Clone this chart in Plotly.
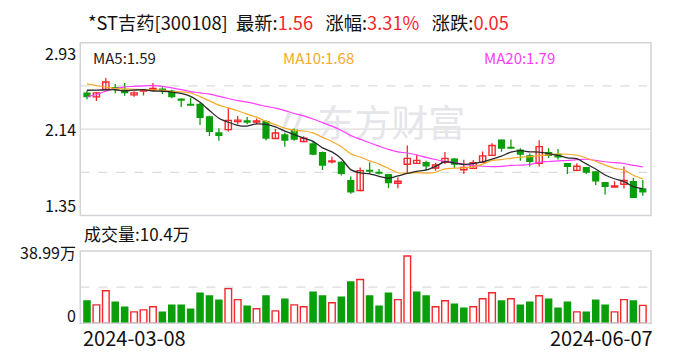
import plotly.graph_objects as go

# ---------------- data ----------------
stock_name = "*ST吉药[300108]"
x_labels = ["2024-03-08", "2024-06-07"]
price_ticks = [1.35, 2.14, 2.93]

opens = [2.475, 2.435, 2.502, 2.526, 2.502, 2.453, 2.487, 2.499, 2.511, 2.493,
         2.420, 2.369, 2.372, 2.257, 2.111, 2.135, 2.208, 2.220, 2.205, 2.214,
         2.054, 2.093, 2.138, 2.027, 2.011, 1.930, 1.842, 1.842, 1.675, 1.579,
         1.766, 1.742, 1.730, 1.645, 1.818, 1.827, 1.839, 1.784, 1.836, 1.872,
         1.769, 1.781, 1.836, 1.900, 2.045, 1.969, 1.954, 1.902, 1.827, 1.930,
         1.912, 1.830, 1.763, 1.793, 1.754, 1.657, 1.609, 1.636, 1.666, 1.600]
highs = [2.493, 2.480, 2.608, 2.553, 2.562, 2.487, 2.500, 2.562, 2.523, 2.499,
         2.420, 2.426, 2.378, 2.263, 2.148, 2.335, 2.260, 2.250, 2.238, 2.220,
         2.142, 2.108, 2.145, 2.075, 2.033, 1.936, 1.887, 1.845, 1.706, 1.790,
         1.836, 1.775, 1.730, 1.700, 1.990, 1.908, 1.851, 1.833, 1.930, 1.875,
         1.860, 1.857, 1.936, 2.011, 2.045, 2.045, 1.966, 1.918, 2.039, 1.966,
         1.957, 1.830, 1.827, 1.793, 1.754, 1.657, 1.663, 1.799, 1.694, 1.675]
lows = [2.414, 2.396, 2.496, 2.468, 2.444, 2.435, 2.447, 2.496, 2.462, 2.423,
        2.341, 2.357, 2.178, 2.078, 2.033, 2.117, 2.184, 2.184, 2.184, 2.036,
        2.051, 1.978, 2.033, 2.020, 1.902, 1.766, 1.827, 1.715, 1.548, 1.572,
        1.730, 1.724, 1.600, 1.600, 1.736, 1.821, 1.760, 1.760, 1.821, 1.784,
        1.730, 1.775, 1.830, 1.893, 1.933, 1.960, 1.851, 1.797, 1.797, 1.875,
        1.863, 1.730, 1.754, 1.730, 1.630, 1.542, 1.609, 1.597, 1.510, 1.530]
closes = [2.432, 2.471, 2.571, 2.502, 2.468, 2.471, 2.490, 2.511, 2.490, 2.432,
          2.405, 2.360, 2.241, 2.114, 2.078, 2.220, 2.222, 2.205, 2.214, 2.051,
          2.105, 2.033, 2.042, 2.057, 1.905, 1.806, 1.848, 1.730, 1.560, 1.760,
          1.757, 1.736, 1.645, 1.663, 1.872, 1.854, 1.797, 1.812, 1.872, 1.815,
          1.790, 1.833, 1.895, 1.990, 1.960, 1.966, 1.905, 1.839, 1.980, 1.893,
          1.881, 1.793, 1.800, 1.740, 1.660, 1.610, 1.620, 1.670, 1.510, 1.560]
volumes = [13.3, 10.7, 18.9, 12.7, 9.75, 6.6, 7.8, 9.6, 6.8, 10.9,
           10.9, 8.6, 17.9, 16.2, 13.8, 20.1, 13.7, 10.3, 8.4, 16.2,
           7.2, 14.4, 10.7, 9.6, 18.5, 16.2, 11.9, 15.6, 24.4, 25.4,
           16.2, 10.3, 17.9, 13.7, 38.99, 18.5, 16.2, 9.6, 13.1, 11.5,
           9.2, 9.6, 14.2, 17.7, 13.3, 14.2, 10.9, 12.7, 16.0, 14.4,
           9.2, 12.7, 6.6, 6.8, 13.8, 10.9, 6.6, 13.7, 13.3, 10.4]
# moving-average values before a full window exists
ma5_head = [2.495, 2.496, 2.499, 2.500]
ma10_head = [2.553, 2.538, 2.523, 2.512, 2.507, 2.503, 2.501, 2.499, 2.496]
ma20_head = [2.435, 2.456, 2.486, 2.510, 2.526, 2.531, 2.536, 2.537, 2.531, 2.517,
             2.501, 2.483, 2.471, 2.459, 2.440, 2.420, 2.401, 2.386, 2.368]

# ---------------- derived ----------------
n = len(closes)
idx = list(range(n))


def moving_avg(w, head):
    out = []
    for i in range(n):
        if i >= w - 1:
            out.append(sum(closes[i - w + 1:i + 1]) / w)
        else:
            out.append(head[i])
    return out


ma5 = moving_avg(5, ma5_head)
ma10 = moving_avg(10, ma10_head)
ma20 = moving_avg(20, ma20_head)

latest = closes[-1]
chg = closes[-1] - closes[-2]
pct = chg / closes[-2] * 100
vmax = max(volumes)

candle_up = [c >= o for o, c in zip(opens, closes)]
vol_up = [closes[0] >= opens[0]] + [closes[i] >= closes[i - 1] for i in range(1, n)]

RED = "#f5262b"
GREEN = "#0a9e0a"
ORANGE = "#f7a928"
MAGENTA = "#ff3cff"
BORDER = "#d2d2d8"
GRID = "#dcdcdc"
FONT = "Liberation Sans Narrow, Arial Narrow, Noto Sans CJK SC, sans-serif"
CJK = "Liberation Sans Narrow, Noto Sans CJK SC, sans-serif"

# page geometry helpers (body margin of 8px)
OFF = 8
W, H = 672, 344


def fx(p):
    return (p - OFF) / W


def fy(p):
    return 1 - (p - OFF) / H


X0, X1 = 80.3, 651
CT, CB = 42.7, 215.5
VT, VB = 251, 323.3
xr = [-0.71, 59.87]
vtop = vmax * 1.075

fig = go.Figure()

# watermark
fig.add_trace(go.Scatter(x=[32.3, 21.8], y=[2.15, 2.15], mode="text", text=["东方财富", "〃"],
                         textfont=dict(size=[37, 42], color="#e5e5ea", family="Noto Sans CJK SC"),
                         hoverinfo="skip", showlegend=False, xaxis="x", yaxis="y"))

# wicks
for up, col in [(True, RED), (False, GREEN)]:
    wx, wy = [], []
    for i in idx:
        if candle_up[i] == up:
            wx += [i, i, None]
            wy += [lows[i], highs[i], None]
    fig.add_trace(go.Scatter(x=wx, y=wy, mode="lines", line=dict(color=col, width=1.3),
                             hoverinfo="skip", showlegend=False))

# bodies
MINH = 0.004
gi = [i for i in idx if not candle_up[i]]
ri = [i for i in idx if candle_up[i]]
fig.add_trace(go.Bar(x=gi, base=[min(opens[i], closes[i]) for i in gi],
                     y=[max(abs(closes[i] - opens[i]), MINH) for i in gi],
                     width=0.76, marker=dict(color=GREEN, line=dict(width=0)),
                     showlegend=False, hoverinfo="skip"))
fig.add_trace(go.Bar(x=ri, base=[min(opens[i], closes[i]) for i in ri],
                     y=[max(abs(closes[i] - opens[i]), MINH) for i in ri],
                     width=0.66, marker=dict(color="white", line=dict(width=1.4, color=RED)),
                     showlegend=False, hoverinfo="skip"))

# moving averages
for vals, col, wdt in [(ma20, MAGENTA, 1.2), (ma10, ORANGE, 1.2), (ma5, "#2a2a2a", 1.3)]:
    fig.add_trace(go.Scatter(x=idx, y=vals, mode="lines",
                             line=dict(color=col, width=wdt, shape="spline", smoothing=0.8),
                             hoverinfo="skip", showlegend=False))

# volume
vg = [i for i in idx if not vol_up[i]]
vr = [i for i in idx if vol_up[i]]
fig.add_trace(go.Bar(x=vg, y=[volumes[i] for i in vg], width=0.8, xaxis="x2", yaxis="y2",
                     marker=dict(color=GREEN, line=dict(width=0)), showlegend=False, hoverinfo="skip"))
fig.add_trace(go.Bar(x=vr, y=[volumes[i] for i in vr], width=0.7, xaxis="x2", yaxis="y2",
                     marker=dict(color="white", line=dict(width=1.4, color=RED)),
                     showlegend=False, hoverinfo="skip"))

ax = dict(showticklabels=False, showgrid=False, zeroline=False, showline=False, ticks="",
          fixedrange=True)
fig.update_layout(
    width=W, height=H, autosize=False,
    margin=dict(l=0, r=0, t=0, b=0, pad=0),
    paper_bgcolor="white", plot_bgcolor="white",
    barmode="overlay", showlegend=False,
    xaxis=dict(domain=[fx(X0), fx(X1)], range=xr, anchor="y", **ax),
    yaxis=dict(domain=[fy(CB), fy(CT)], range=[price_ticks[0], price_ticks[-1]], anchor="x", **ax),
    xaxis2=dict(domain=[fx(X0), fx(X1)], range=xr, anchor="y2", **ax),
    yaxis2=dict(domain=[fy(VB), fy(VT)], range=[0, vtop], anchor="x2", **ax),
)

shapes = []
q = (price_ticks[-1] - price_ticks[0]) / 4
for k, dash in [(1, "dash"), (2, "solid"), (3, "dash")]:
    shapes.append(dict(type="line", xref="paper", yref="y", x0=fx(X0), x1=fx(X1),
                       y0=price_ticks[0] + k * q, y1=price_ticks[0] + k * q,
                       line=dict(color=GRID, width=1.3, dash=dash), layer="below"))
shapes.append(dict(type="line", xref="paper", yref="y2", x0=fx(X0), x1=fx(X1),
                   y0=vtop / 2, y1=vtop / 2, line=dict(color=GRID, width=1.3, dash="dash"),
                   layer="below"))
for t, b in [(CT, CB), (VT, VB)]:
    shapes.append(dict(type="rect", xref="paper", yref="paper", x0=fx(X0), x1=fx(X1),
                       y0=fy(b), y1=fy(t), line=dict(color=BORDER, width=1.5),
                       fillcolor="rgba(0,0,0,0)", layer="above"))
fig.update_layout(shapes=shapes)

ann = []
title = (f"{stock_name}\u00a0 最新:<span style='color:{RED}'>{latest:.2f}</span>"
         f"\u00a0\u00a0 涨幅:<span style='color:{RED}'>{pct:.2f}%</span>"
         f"\u00a0\u00a0 涨跌:<span style='color:{RED}'>{chg:.2f}</span>")
ann.append(dict(text=title, x=fx(86), y=fy(22), xref="paper", yref="paper",
                xanchor="left", yanchor="middle", showarrow=False,
                font=dict(size=18.3, color="#111", family=CJK)))
for lab, val, col, xp in [("MA5", ma5[-1], "#222", 91), ("MA10", ma10[-1], ORANGE, 281),
                          ("MA20", ma20[-1], MAGENTA, 482)]:
    ann.append(dict(text=f"{lab}:{val:.2f}", x=fx(xp), y=fy(57), xref="paper", yref="paper",
                    xanchor="left", yanchor="middle", showarrow=False,
                    font=dict(size=15, color=col, family=FONT)))
# price axis labels (top to bottom)
for val, yp in zip(price_ticks[::-1], [52.5, 128.9, 205.3]):
    ann.append(dict(text=f"{val:.2f}", x=fx(77.7), y=fy(yp), xref="paper", yref="paper",
                    xanchor="right", yanchor="middle", showarrow=False,
                    font=dict(size=16, color="#111", family=FONT)))
ann.append(dict(text=f"{vmax:.2f}万", x=fx(78), y=fy(251.7), xref="paper", yref="paper",
                xanchor="right", yanchor="middle", showarrow=False,
                font=dict(size=16, color="#111", family=CJK)))
ann.append(dict(text="0", x=fx(77.7), y=fy(314.7), xref="paper", yref="paper",
                xanchor="right", yanchor="middle", showarrow=False,
                font=dict(size=16, color="#111", family=FONT)))
ann.append(dict(text=f"成交量:{volumes[-1]:.1f}万", x=fx(82), y=fy(234), xref="paper",
                yref="paper", xanchor="left", yanchor="middle", showarrow=False,
                font=dict(size=17, color="#111", family=CJK)))
ann.append(dict(text=x_labels[0], x=fx(81), y=fy(337.5), xref="paper", yref="paper",
                xanchor="left", yanchor="middle", showarrow=False,
                font=dict(size=20, color="#111", family=FONT)))
ann.append(dict(text=x_labels[1], x=fx(655), y=fy(337.5), xref="paper", yref="paper",
                xanchor="right", yanchor="middle", showarrow=False,
                font=dict(size=20, color="#111", family=FONT)))
fig.update_layout(annotations=ann)

fig.write_html("out.html")
